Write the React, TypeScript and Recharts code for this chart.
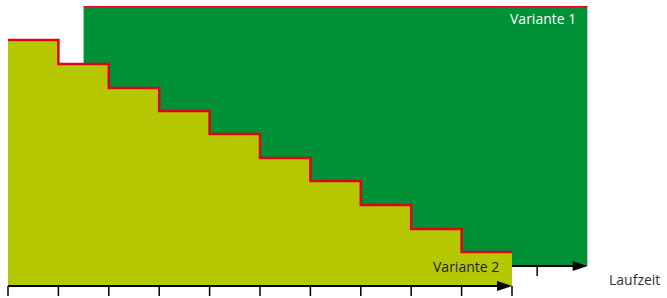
import {
  Area,
  ComposedChart,
  ReferenceLine,
  XAxis,
  YAxis
} from "recharts"

const stepIndex = [0, 1, 2, 3, 4, 5, 6, 7, 8, 9, 10]
const variante2 = [246, 222, 198, 175, 152, 128, 105, 81, 57, 34, 34]
const variante1Start = 1.5
const variante1End = 11.5
const variante1Level = 280
const variante1Base = 20
const tickValues = [0, 1, 2, 3, 4, 5, 6, 7, 8, 9, 10]

const data2 = stepIndex.map((x, i) => ({ x, v: variante2[i] }))
const data1 = [
  { x: variante1Start, v: variante1Level },
  { x: variante1End, v: variante1Level }
]

const GREEN = "#009036"
const YELLOW = "#b5c700"
const RED = "#e2001a"

function ArrowLine(props: any) {
  const { x1, y1, x2, y2 } = props
  return (
    <g>
      <line x1={x1} y1={y1} x2={x2 - 10} y2={y2} stroke="#000" strokeWidth={2} />
      <polygon points={`${x2},${y2} ${x2 - 15},${y2 - 5} ${x2 - 15},${y2 + 5}`} fill="#000" />
    </g>
  )
}

const labelStyle: React.CSSProperties = {
  position: "absolute",
  fontFamily: "'Open Sans', sans-serif",
  fontSize: 14,
  lineHeight: "16px",
  whiteSpace: "nowrap"
}

export default function App() {
  return (
    <div style={{ position: "absolute", left: 0, top: 0, width: 667, height: 298 }}>
      <ComposedChart
        width={667}
        height={298}
        margin={{ top: 6, right: 79.4, left: 8, bottom: 0 }}
      >
        <XAxis
          type="number"
          dataKey="x"
          domain={[0, 11.5]}
          ticks={tickValues}
          tick={() => <g />}
          tickSize={10}
          tickLine={{ stroke: "#000", strokeWidth: 1.5 }}
          axisLine={false}
          height={12}
          allowDataOverflow
        />
        <YAxis type="number" domain={[0, 280]} hide allowDataOverflow />
        <Area
          data={data1}
          dataKey="v"
          type="linear"
          baseValue={variante1Base}
          fill={GREEN}
          fillOpacity={1}
          stroke={RED}
          strokeWidth={2.5}
          isAnimationActive={false}
        />
        <Area
          data={data2}
          dataKey="v"
          type="stepAfter"
          baseValue={0}
          fill={YELLOW}
          fillOpacity={1}
          stroke={RED}
          strokeWidth={2.5}
          isAnimationActive={false}
        />
        <ReferenceLine
          segment={[
            { x: 10, y: variante1Base },
            { x: variante1End, y: variante1Base }
          ]}
          shape={ArrowLine}
          ifOverflow="visible"
        />
        <ReferenceLine
          segment={[
            { x: 10.5, y: variante1Base },
            { x: 10.5, y: variante1Base - 10 }
          ]}
          stroke="#000"
          strokeWidth={1.5}
          ifOverflow="visible"
        />
        <ReferenceLine
          segment={[
            { x: 0, y: 0 },
            { x: 10, y: 0 }
          ]}
          shape={ArrowLine}
          ifOverflow="visible"
        />
      </ComposedChart>
      <div style={{ ...labelStyle, left: 510, top: 11, color: "#fff" }}>Variante 1</div>
      <div style={{ ...labelStyle, left: 433, top: 259, color: "#222" }}>Variante 2</div>
      <div style={{ ...labelStyle, left: 609, top: 272, color: "#333" }}>Laufzeit</div>
    </div>
  )
}
